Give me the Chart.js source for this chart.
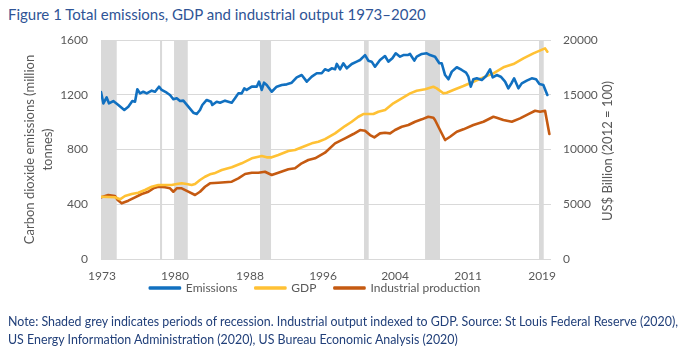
<!DOCTYPE html>
<html>
<head>
<meta charset="utf-8">
<script src="https://cdn.jsdelivr.net/npm/chart.js@4"></script>
<style>
  html, body { margin: 0; padding: 0; background: #ffffff; }
  body { width: 690px; height: 362px; position: relative; overflow: hidden; font-family: Lato, "Open Sans", sans-serif; }
  #title { position: absolute; left: 8px; top: 5px; font-size: 15px; color: #2F5496; white-space: nowrap; }
  #wrap { position: absolute; left: 0; top: 0; width: 630px; height: 362px; }
  #y2title { position: absolute; left: 607px; top: 151px; transform: translate(-50%, -50%) rotate(-90deg); white-space: nowrap; font-size: 13px; color: #595959; }
  #note { position: absolute; left: 8px; top: 313px; font-size: 12.4px; line-height: 18px; color: #22407A; white-space: nowrap; }
</style>
</head>
<body>
<div id="title">Figure 1 Total emissions, GDP and industrial output 1973–2020</div>
<div id="wrap"><canvas id="c" width="630" height="362"></canvas></div>
<div id="y2title">US$ Billion (2012 = 100)</div>
<div id="note">Note: Shaded grey indicates periods of recession. Industrial output indexed to GDP. Source: St Louis Federal Reserve (2020),<br>US Energy Information Administration (2020), US Bureau Economic Analysis (2020)</div>
<script>
// ---- Data ----
const emissionsYears = [1973.75,1974.0,1974.34,1974.58,1975.03,1975.56,1976.18,1976.6,1977.02,1977.3,1977.54,1977.82,1978.16,1978.52,1979.04,1979.39,1979.8,1980.08,1980.61,1980.95,1981.3,1981.65,1982.0,1982.34,1982.86,1983.38,1983.74,1984.08,1984.32,1984.78,1985.23,1985.36,1985.82,1986.17,1986.69,1987.39,1987.73,1988.08,1988.43,1988.7,1988.95,1989.48,1990.0,1990.24,1990.52,1990.76,1991.04,1991.56,1992.08,1992.61,1993.13,1993.65,1994.17,1994.69,1995.22,1995.74,1996.26,1996.78,1997.12,1997.47,1997.82,1998.17,1998.35,1998.69,1999.03,1999.39,1999.91,2000.43,2000.78,2001.3,2001.64,2001.99,2002.34,2002.86,2003.38,2003.73,2004.15,2004.5,2004.95,2005.3,2005.75,2005.99,2006.44,2006.69,2007.22,2007.74,2008.08,2008.6,2009.05,2009.3,2009.65,2010.0,2010.35,2010.87,2011.39,2011.84,2012.08,2012.33,2012.6,2012.96,2013.48,2013.93,2014.34,2014.62,2015.04,2015.46,2015.91,2016.25,2016.61,2016.85,2017.3,2017.65,2018.17,2018.69,2019.14,2019.49,2019.9,2020.32];
const emissions = [1220,1137,1181,1137,1154,1125,1089,1113,1154,1149,1240,1210,1222,1210,1230,1222,1259,1235,1215,1198,1167,1174,1154,1157,1113,1069,1059,1089,1125,1162,1149,1125,1149,1142,1157,1142,1174,1210,1210,1247,1235,1259,1259,1296,1235,1288,1271,1222,1259,1271,1276,1288,1327,1344,1296,1332,1357,1357,1386,1376,1393,1386,1425,1386,1430,1393,1425,1442,1454,1490,1449,1442,1405,1454,1483,1442,1466,1503,1478,1490,1490,1498,1449,1478,1498,1503,1490,1478,1430,1430,1344,1313,1369,1401,1381,1361,1332,1259,1313,1320,1308,1337,1386,1327,1344,1332,1296,1247,1288,1320,1247,1283,1303,1320,1313,1279,1271,1198];

const gdpYears = [1973.75,1975.21,1975.73,1976.25,1976.95,1977.64,1978.34,1979.04,1979.73,1980.43,1981.13,1981.65,1982.17,1982.69,1983.21,1983.56,1984.08,1984.6,1985.12,1985.57,1986.35,1987.39,1988.43,1989.48,1990.52,1991.04,1991.56,1992.25,1993.3,1993.99,1995.04,1995.74,1996.43,1997.12,1998.17,1999.21,1999.91,2000.6,2001.12,2002.17,2002.69,2003.39,2004.25,2005.13,2006.0,2006.69,2007.56,2008.43,2008.78,2009.47,2009.82,2010.51,2011.56,2012.6,2013.65,2014.69,2015.73,2016.78,2017.82,2018.86,2020.08,2020.32];
const gdp = [5688,5633,5450,5752,5935,6053,6300,6601,6756,6756,6756,6848,6911,6848,6756,6848,7213,7514,7733,7824,8126,8372,8737,9194,9404,9283,9283,9495,9860,9952,10317,10561,10710,10950,11476,12143,12536,12992,13239,13239,13448,13604,14216,14672,15129,15366,15494,15731,15585,15129,15190,15430,15795,16188,16589,16954,17502,17804,18324,18780,19237,18927];

const industryYears = [1973.75,1974.51,1975.21,1975.49,1975.91,1976.6,1977.3,1978.0,1978.69,1979.21,1979.73,1980.43,1980.95,1981.3,1981.65,1982.17,1982.86,1983.56,1984.08,1984.6,1985.12,1985.99,1987.39,1988.08,1988.78,1989.48,1990.17,1990.86,1991.56,1992.25,1993.3,1993.99,1994.69,1995.38,1996.08,1997.12,1998.17,1999.21,2000.08,2000.78,2001.3,2001.82,2002.27,2002.86,2003.38,2003.91,2004.43,2005.13,2005.82,2006.52,2007.22,2007.9,2008.43,2008.6,2009.12,2009.65,2010.17,2010.87,2011.56,2012.6,2013.65,2014.69,2015.04,2015.73,2016.61,2017.47,2018.34,2019.04,2019.56,2020.08,2020.53];
const industry = [5633,5843,5752,5387,5085,5323,5633,5935,6145,6455,6601,6546,6455,6145,6455,6455,6145,5843,6145,6601,6911,6966,7058,7368,7760,7879,7879,7971,7669,7879,8190,8281,8737,9039,9194,9705,10561,11020,11413,11778,11716,11321,11111,11476,11536,11476,11778,12079,12234,12536,12754,12992,12900,12691,11778,10865,11166,11622,11842,12234,12536,12992,12900,12691,12536,12846,13239,13540,13448,13540,11413];

const recessionStarts = [1973.75,1979.91,1981.37,1990.34,2001.19,2007.56,2019.45];
const recessionEnds   = [1975.39,1980.12,1982.8,1991.49,2001.68,2009.12,2019.94];

const tickYears  = [1973.85,1981.47,1989.3,1996.92,2004.43,2012.05,2019.77];
const tickLabels = ['1973','1980','1988','1996','2004','2011','2019'];

const leftTicks  = [0,400,800,1200,1600];
const rightTicks = [0,5000,10000,15000,20000];

// ---- Chart ----
const pts = (xs, ys) => xs.map((x, i) => ({x: x, y: ys[i]}));

const bandPlugin = {
  id: 'recessionBands',
  beforeDatasetsDraw(chart) {
    const {ctx, chartArea, scales} = chart;
    const xs = scales.x;
    ctx.save();
    ctx.fillStyle = '#d9d9d9';
    recessionStarts.forEach((s, i) => {
      const x0 = Math.max(chartArea.left, xs.getPixelForValue(s));
      const x1 = Math.min(chartArea.right, xs.getPixelForValue(recessionEnds[i]));
      ctx.fillRect(x0, chartArea.top, x1 - x0, chartArea.bottom - chartArea.top);
    });
    ctx.restore();
  }
};

// lift the legend up so it sits just under the year labels
const legendLift = {
  id: 'legendLift',
  afterLayout(chart) {
    const l = chart.legend;
    if (l) { l.top -= 21; l.bottom -= 21; }
  }
};

const tickFont = {family: 'Lato', size: 12};
const plain = v => String(v);

new Chart(document.getElementById('c'), {
  type: 'line',
  data: {
    datasets: [
      {label: 'Emissions', data: pts(emissionsYears, emissions), yAxisID: 'y',
       borderColor: '#1170C0', backgroundColor: '#1170C0'},
      {label: 'GDP', data: pts(gdpYears, gdp), yAxisID: 'y1',
       borderColor: '#FFC134', backgroundColor: '#FFC134'},
      {label: 'Industrial production', data: pts(industryYears, industry), yAxisID: 'y1',
       borderColor: '#C55A11', backgroundColor: '#C55A11'}
    ]
  },
  options: {
    responsive: false,
    animation: false,
    events: [],
    elements: {
      line: {borderWidth: 2.6, tension: 0, borderJoinStyle: 'round', borderCapStyle: 'round', fill: false},
      point: {radius: 0}
    },
    layout: {padding: {left: 0, right: 0, top: 40, bottom: 37}},
    plugins: {
      tooltip: {enabled: false},
      legend: {
        position: 'bottom',
        labels: {boxWidth: 30, boxHeight: 1, padding: 18, color: '#595959', font: {family: 'Lato', size: 12}}
      }
    },
    scales: {
      x: {
        type: 'linear', min: 1973.75, max: 2020.7,
        grid: {display: false, drawTicks: false},
        border: {display: false},
        afterBuildTicks: s => { s.ticks = tickYears.map(v => ({value: v})); },
        afterFit: s => { s.height = 26; },
        ticks: {autoSkip: false, maxRotation: 0, padding: 10, color: '#595959', font: tickFont,
                callback: (v, i) => tickLabels[i]}
      },
      y: {
        position: 'left', min: 0, max: 1600,
        afterBuildTicks: s => { s.ticks = leftTicks.map(v => ({value: v})); },
        afterFit: s => { s.width = 101; },
        grid: {color: '#d9d9d9', lineWidth: 1, drawTicks: false},
        border: {display: false},
        ticks: {padding: 13, color: '#595959', font: tickFont, callback: plain},
        title: {display: true, text: ['Carbon dioxide emissions (million', 'tonnes)'],
                color: '#595959', font: {family: 'Lato', size: 13, lineHeight: 1.38}, padding: {top: 21, bottom: 0}}
      },
      y1: {
        position: 'right', min: 0, max: 20000,
        afterBuildTicks: s => { s.ticks = rightTicks.map(v => ({value: v})); },
        afterFit: s => { s.width = 79; },
        grid: {display: false, drawTicks: false},
        border: {display: false},
        ticks: {padding: 12, color: '#595959', font: tickFont, callback: plain}
      }
    }
  },
  plugins: [bandPlugin, legendLift]
});
</script>
</body>
</html>
